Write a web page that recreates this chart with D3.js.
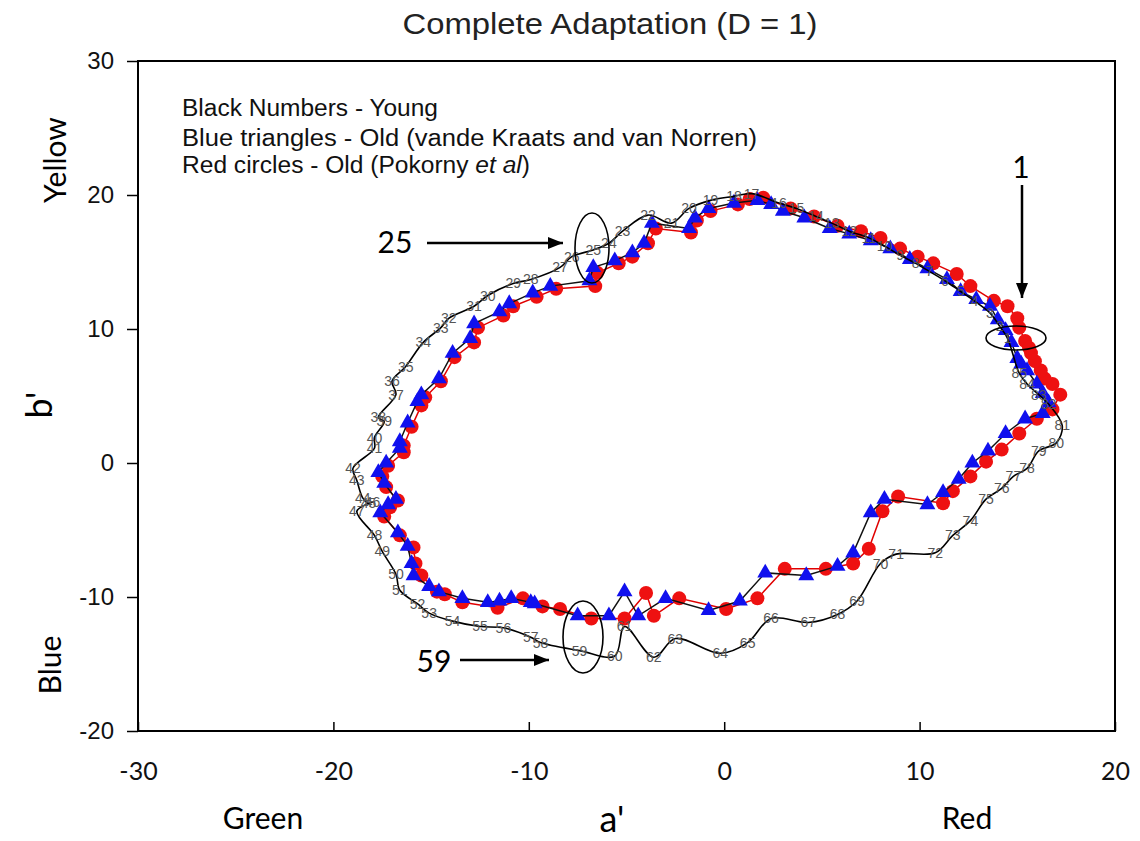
<!DOCTYPE html>
<html>
<head>
<meta charset="utf-8">
<script src="https://cdn.jsdelivr.net/npm/d3@7"></script>
<style>
  body { margin: 0; background: #fff; }
  text { font-family: "Liberation Sans", Arial, sans-serif; }
  .cal { font-family: Lato, "Open Sans", sans-serif; }
</style>
</head>
<body>
<svg id="chart" width="1140" height="841"></svg>
<script>
// hue cap numbers 1..85 (Farnsworth-Munsell caps)
const caps = d3.range(1, 86);

// young observers (black numbers) - a', b'
const youngA = [14.5,14.1,13.6,12.8,12.1,11.3,10.5,9.8,9.0,8.2,7.4,6.4,5.5,4.7,3.7,2.8,1.4,0.5,-0.7,-1.8,
  -2.7,-3.9,-5.2,-5.9,-6.7,-7.8,-8.4,-9.9,-10.8,-12.1,-12.8,-14.1,-14.5,-15.4,-16.3,-17.0,-16.8,-17.7,-17.4,-17.9,
  -17.9,-19.0,-18.8,-18.5,-18.2,-18.0,-18.8,-17.9,-17.5,-16.8,-16.6,-15.7,-15.1,-13.9,-12.5,-11.3,-9.9,-9.4,-7.4,-5.6,
  -5.1,-3.6,-2.5,-0.2,1.2,2.4,4.3,5.8,6.8,8.0,8.8,10.8,11.7,12.6,13.4,14.2,14.8,15.5,16.1,17.0,
  17.3,16.6,16.1,15.5,15.1];
const youngB = [9.3,10.2,11.2,12.1,12.8,13.6,14.3,14.9,15.5,16.2,16.8,17.3,17.9,18.4,19.0,19.4,20.1,19.9,19.6,19.0,
  17.9,18.5,17.3,16.4,15.9,15.4,14.6,13.7,13.4,12.5,11.7,10.8,10.1,9.0,7.2,6.1,5.1,3.4,3.1,1.9,
  1.1,-0.4,-1.3,-2.6,-3.0,-2.9,-3.6,-5.4,-6.6,-8.3,-9.5,-10.5,-11.2,-11.8,-12.2,-12.3,-13.0,-13.4,-14.0,-14.4,
  -12.2,-14.5,-13.1,-14.2,-13.4,-11.6,-11.9,-11.3,-10.3,-7.5,-6.8,-6.7,-5.4,-4.3,-2.7,-1.9,-1.0,-0.4,0.9,1.5,
  2.8,4.4,5.1,5.9,6.7];

// old observers, van de Kraats and van Norren (blue triangles)
const kraatsA = [14.7,14.4,14.0,13.6,12.9,12.1,11.4,10.4,9.5,8.5,7.5,6.4,5.4,4.1,3.0,2.4,1.7,0.5,-0.8,-1.5,
  -1.8,-3.7,-4.1,-4.7,-5.6,-6.7,-6.9,-8.9,-9.8,-11.0,-11.5,-12.8,-13.0,-13.9,-14.6,-15.5,-15.7,-16.2,-16.6,-16.6,
  -17.3,-17.7,-17.4,-16.8,-17.2,-17.6,-16.7,-16.2,-16.0,-15.9,-15.1,-14.6,-13.4,-12.1,-11.5,-10.9,-9.9,-9.7,-7.5,-5.9,
  -5.1,-4.4,-3.0,-0.8,0.8,2.1,4.2,5.8,6.6,7.5,8.2,10.4,11.2,12.0,12.7,13.5,14.4,15.4,16.3,16.6,
  16.3,16.0,15.5,15.2,15.0];
const kraatsB = [9.0,9.9,10.7,11.7,12.2,12.8,13.7,14.5,15.2,16.0,16.6,17.1,17.5,18.3,18.8,19.3,19.6,19.4,19.0,18.3,
  17.5,17.9,16.4,15.7,15.1,14.6,13.6,13.2,12.7,11.9,11.3,10.4,9.3,8.2,6.3,5.1,4.6,3.0,1.6,1.1,
  0.0,-0.7,-1.5,-2.7,-3.1,-3.7,-5.2,-6.2,-7.5,-8.4,-9.2,-9.6,-10.1,-10.4,-10.3,-10.1,-10.4,-10.5,-11.4,-11.4,
  -9.6,-11.4,-10.1,-11.0,-10.3,-8.2,-8.4,-7.7,-6.7,-3.7,-2.7,-3.1,-2.2,-1.2,0.0,0.9,2.2,3.3,3.7,4.5,
  5.2,5.9,6.9,7.4,7.8];

// old observers, Pokorny et al (red circles)
const pokornyA = [15.4,15.1,15.0,14.5,13.8,12.6,11.9,10.7,9.9,9.0,8.0,7.0,5.8,4.6,3.4,2.0,1.3,0.7,-0.7,-1.4,
  -1.7,-3.5,-3.9,-4.7,-5.4,-6.5,-6.6,-8.6,-9.6,-10.8,-11.3,-12.6,-12.8,-13.8,-14.5,-15.3,-15.5,-16.0,-16.4,-16.4,
  -17.2,-17.5,-17.3,-16.7,-17.1,-17.4,-16.6,-15.9,-15.8,-15.5,-14.7,-14.3,-13.4,-11.6,-10.3,-9.3,-8.4,-6.8,-5.1,-4.0,
  -3.6,-2.3,0.1,1.7,3.1,5.2,6.6,7.4,8.1,8.9,11.2,11.7,12.6,13.4,14.2,15.1,16.0,16.8,17.2,16.8,
  16.4,16.2,15.9,15.7,15.6];
const pokornyB = [9.1,10.1,10.8,11.7,12.1,13.2,14.1,14.9,15.4,16.0,16.8,17.3,17.7,18.4,19.0,19.8,19.7,19.3,18.8,18.1,
  17.2,17.5,16.4,15.4,14.9,14.2,13.2,13.0,12.4,11.7,11.0,10.1,9.0,7.9,6.1,4.9,4.3,2.7,1.3,0.8,
  -0.2,-1.0,-1.8,-2.8,-3.3,-4.0,-5.4,-6.3,-7.5,-8.4,-9.6,-9.8,-10.4,-10.8,-10.1,-10.7,-10.9,-11.6,-11.6,-9.7,
  -11.4,-10.1,-10.9,-10.1,-7.9,-7.9,-7.5,-6.4,-3.6,-2.5,-3.0,-2.1,-1.0,0.1,1.0,2.2,3.3,4.0,5.1,5.9,
  6.3,6.9,7.6,8.2,8.6];

const xTicks = [-30, -20, -10, 0, 10, 20];
const yTicks = [-20, -10, 0, 10, 20, 30];

const legendLines = ["Black Numbers - Young",
  "Blue triangles - Old (vande Kraats and van Norren)",
  "Red circles - Old (Pokorny "];

const young = caps.map((c, i) => ({cap: c, a: youngA[i], b: youngB[i]}));
const kraats = caps.map((c, i) => ({cap: c, a: kraatsA[i], b: kraatsB[i]}));
const pokorny = caps.map((c, i) => ({cap: c, a: pokornyA[i], b: pokornyB[i]}));

const svg = d3.select("#chart");
const mLeft = 138, mRight = 1115, mTop = 61, mBottom = 731;

const x = d3.scaleLinear().domain([-30, 20]).range([mLeft, mRight]);
const y = d3.scaleLinear().domain([-20, 30]).range([mBottom, mTop]);

svg.append("defs").append("marker")
  .attr("id", "arrow")
  .attr("viewBox", "0 0 10 10")
  .attr("refX", 10).attr("refY", 5)
  .attr("markerWidth", 6).attr("markerHeight", 6)
  .attr("markerUnits", "strokeWidth")
  .attr("orient", "auto")
  .append("path").attr("d", "M0,1 L10,5 L0,9 z").attr("fill", "#000");

// title
svg.append("text")
  .attr("x", 610).attr("y", 34)
  .attr("text-anchor", "middle")
  .attr("font-size", 30)
  .attr("textLength", 415).attr("lengthAdjust", "spacingAndGlyphs")
  .attr("fill", "#222")
  .text("Complete Adaptation (D = 1)");

// axes
svg.append("g")
  .attr("transform", "translate(" + mLeft + ",0)")
  .call(d3.axisLeft(y).tickValues(yTicks).tickSize(11).tickPadding(13).tickFormat(d => String(d)))
  .call(g => g.select(".domain").remove())
  .call(g => g.selectAll("line").attr("stroke-width", 1.5))
  .call(g => g.selectAll("text").attr("font-size", 24).attr("font-family", "Liberation Sans, Arial").attr("fill", "#111"));

svg.append("g")
  .attr("transform", "translate(0," + mBottom + ")")
  .call(d3.axisBottom(x).tickValues(xTicks).tickSize(-9).tickPadding(31).tickFormat(d => String(d)))
  .call(g => g.select(".domain").remove())
  .call(g => g.selectAll("line").attr("stroke-width", 1.5))
  .call(g => g.selectAll("text").attr("font-size", 25).attr("class", "cal").attr("fill", "#111"));

svg.append("rect")
  .attr("x", mLeft).attr("y", mTop)
  .attr("width", mRight - mLeft).attr("height", mBottom - mTop)
  .attr("fill", "none").attr("stroke", "#000").attr("stroke-width", 2);

// axis titles
svg.append("text").attr("transform", "translate(52,405) rotate(-90)")
  .attr("text-anchor", "middle").attr("font-size", 36).attr("class", "cal").text("b'");
svg.append("text").attr("transform", "translate(66,160) rotate(-90)")
  .attr("text-anchor", "middle").attr("font-size", 30).attr("class", "cal").text("Yellow");
svg.append("text").attr("transform", "translate(61,665) rotate(-90)")
  .attr("text-anchor", "middle").attr("font-size", 30).attr("class", "cal").text("Blue");
svg.append("text").attr("x", 263).attr("y", 829)
  .attr("text-anchor", "middle").attr("font-size", 30).attr("class", "cal").text("Green");
svg.append("text").attr("x", 967).attr("y", 829)
  .attr("text-anchor", "middle").attr("font-size", 30).attr("class", "cal").text("Red");
svg.append("text").attr("x", 612).attr("y", 832)
  .attr("text-anchor", "middle").attr("font-size", 36).attr("class", "cal").text("a'");

// legend text
const leg = svg.append("g").attr("font-size", 23).attr("fill", "#111");
legendLines.forEach((t, i) => {
  const tx = leg.append("text").attr("x", 182).attr("y", [116, 146, 173][i])
    .attr("textLength", [256, 575, 348][i]).attr("lengthAdjust", "spacingAndGlyphs")
    .text(t);
  if (i === 2) {
    tx.append("tspan").attr("font-style", "italic").text("et al");
    tx.append("tspan").text(")");
  }
});

const line = d3.line().x(d => x(d.a)).y(d => y(d.b));
const smooth = d3.line().x(d => x(d.a)).y(d => y(d.b)).curve(d3.curveCatmullRomClosed.alpha(0.5));

// Pokorny: red line + red circles
svg.append("path")
  .datum(pokorny.concat([pokorny[0]]))
  .attr("d", line)
  .attr("fill", "none").attr("stroke", "#e00000").attr("stroke-width", 1.5);
svg.append("g").selectAll("circle")
  .data(pokorny).enter()
  .append("circle")
  .attr("cx", d => x(d.a)).attr("cy", d => y(d.b))
  .attr("r", 7).attr("fill", "#ee1111");

// van de Kraats: dark line + blue triangles
svg.append("path")
  .datum(kraats.concat([kraats[0]]))
  .attr("d", line)
  .attr("fill", "none").attr("stroke", "#111").attr("stroke-width", 1.5);
svg.append("g").selectAll("path")
  .data(kraats).enter()
  .append("path")
  .attr("d", d3.symbol(d3.symbolTriangle).size(110))
  .attr("transform", d => "translate(" + x(d.a) + "," + y(d.b) + ")")
  .attr("fill", "#1010ee");

// young: smooth black line + numbers
svg.append("path")
  .datum(young)
  .attr("d", smooth)
  .attr("fill", "none").attr("stroke", "#000").attr("stroke-width", 1.6);
svg.append("g").selectAll("text")
  .data(young).enter()
  .append("text")
  .attr("x", d => x(d.a)).attr("y", d => y(d.b) + 5)
  .attr("text-anchor", "middle")
  .attr("font-size", 14)
  .attr("fill", "#555")
  .text(d => d.cap);

// annotations
function note(label, tx, ty, x1, y1, x2, y2, ex, ey, rx, ry) {
  svg.append("text").attr("x", tx).attr("y", ty)
    .attr("text-anchor", "middle").attr("font-size", 30).attr("class", "cal").text(label);
  svg.append("line")
    .attr("x1", x1).attr("y1", y1).attr("x2", x2).attr("y2", y2)
    .attr("stroke", "#000").attr("stroke-width", 2.5)
    .attr("marker-end", "url(#arrow)");
  svg.append("ellipse")
    .attr("cx", ex).attr("cy", ey).attr("rx", rx).attr("ry", ry)
    .attr("fill", "none").attr("stroke", "#000").attr("stroke-width", 1.6);
}
note("25", 395, 253, 427, 243, 563, 243, 592, 248, 17, 35);
note("59", 434, 672, 460, 660, 549, 660, 583, 637, 20, 36);
note("1", 1021, 178, 1022, 185, 1022, 298, 1016, 338, 30, 12);
</script>
</body>
</html>
